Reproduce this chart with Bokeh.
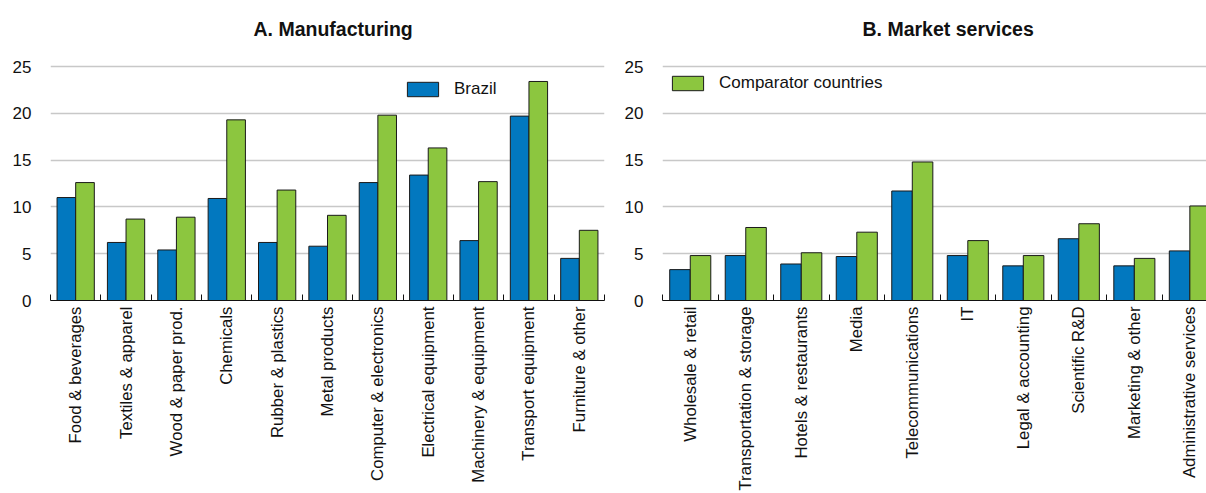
import numpy as np
from bokeh.plotting import figure
from bokeh.models import (FixedTicker, Legend, LegendItem, Range1d)
from bokeh.layouts import row
from bokeh.embed import file_html
from bokeh.resources import INLINE

# ---------------- data ----------------
mfg_cats = ["Food & beverages", "Textiles & apparel", "Wood & paper prod.",
            "Chemicals", "Rubber & plastics", "Metal products",
            "Computer & electronics", "Electrical equipment",
            "Machinery & equipment", "Transport equipment", "Furniture & other"]
mfg_brazil = [11.0, 6.2, 5.4, 10.9, 6.2, 5.8, 12.6, 13.4, 6.4, 19.7, 4.5]
mfg_comp = [12.6, 8.7, 8.9, 19.3, 11.8, 9.1, 19.8, 16.3, 12.7, 23.4, 7.5]

svc_cats = ["Wholesale & retail", "Transportation & storage",
            "Hotels & restaurants", "Media", "Telecommunications", "IT",
            "Legal & accounting", "Scientific R&D", "Marketing & other",
            "Administrative services"]
svc_brazil = [3.3, 4.8, 3.9, 4.7, 11.7, 4.8, 3.7, 6.6, 3.7, 5.3]
svc_comp = [4.8, 7.8, 5.1, 7.3, 14.8, 6.4, 4.8, 8.2, 4.5, 10.1]

y_ticks = [0, 5, 10, 15, 20, 25]
series_names = ["Brazil", "Comparator countries"]

BLUE = "#0278BF"
GREEN = "#8CC63F"
FONT = "Liberation Sans"

TOP = 46          # top border (title area)
BOTTOM = 193      # bottom border (rotated labels)
HEIGHT = 493
# frame spans TOP..HEIGHT-BOTTOM; the 25 gridline should sit 234 px above 0
Y_END = y_ticks[-1] * (HEIGHT - BOTTOM - TOP) / 234.0


def panel(title, cats, br, cp, width, border_left, border_right, x_end,
          legend_idx, legend_loc, title_offset):
    n = len(cats)
    idx = np.arange(n)
    half = 0.37 / 2
    p = figure(width=width, height=HEIGHT,
               x_range=Range1d(-0.5, x_end), y_range=Range1d(0, Y_END),
               output_backend="svg", toolbar_location=None,
               min_border_left=border_left, min_border_right=border_right,
               min_border_top=TOP, min_border_bottom=BOTTOM)
    p.outline_line_color = None
    p.background_fill_color = "white"
    p.border_fill_color = "white"

    p.title.text = title
    p.title.align = "left"
    p.title.vertical_align = "bottom"
    p.title.text_font = FONT
    p.title.text_font_style = "bold"
    p.title.text_font_size = "19.5px"
    p.title.text_color = "#111111"
    p.title.standoff = 14
    p.title.offset = title_offset

    rb = p.vbar(x=idx - half, top=br, bottom=0, width=0.37,
                fill_color=BLUE, line_color="#1a1a1a", line_width=1)
    rc = p.vbar(x=idx + half, top=cp, bottom=0, width=0.37,
                fill_color=GREEN, line_color="#1a1a1a", line_width=1)

    # y axis
    p.yaxis.ticker = FixedTicker(ticks=y_ticks)
    p.yaxis.axis_line_color = None
    p.yaxis.major_tick_line_color = None
    p.yaxis.major_tick_in = 0
    p.yaxis.major_tick_out = 0
    p.yaxis.minor_tick_line_color = None
    p.yaxis.minor_tick_in = 0
    p.yaxis.minor_tick_out = 0
    p.yaxis.major_label_text_font = FONT
    p.yaxis.major_label_text_font_size = "17px"
    p.yaxis.major_label_text_color = "#111111"
    p.yaxis.major_label_standoff = 19
    p.ygrid.ticker = FixedTicker(ticks=y_ticks)
    p.ygrid.grid_line_color = "#c8c8c8"
    p.ygrid.grid_line_width = 1.5
    p.xgrid.visible = False

    # x axis: labels at category centres, small ticks at boundaries
    p.xaxis.ticker = FixedTicker(ticks=list(idx),
                                 minor_ticks=list(np.arange(n + 1) - 0.5))
    p.xaxis.major_label_overrides = {int(i): c for i, c in zip(idx, cats)}
    p.xaxis.major_label_orientation = np.pi / 2
    p.xaxis.major_label_text_font = FONT
    p.xaxis.major_label_text_font_size = "16.8px"
    p.xaxis.major_label_text_color = "#111111"
    p.xaxis.major_label_standoff = 6
    p.xaxis.major_tick_line_color = None
    p.xaxis.major_tick_in = 0
    p.xaxis.major_tick_out = 0
    p.xaxis.minor_tick_in = 6
    p.xaxis.minor_tick_out = 0
    p.xaxis.minor_tick_line_color = "#111111"
    p.xaxis.axis_line_color = "#111111"
    p.xaxis.axis_line_width = 1.2

    r = [rb, rc][legend_idx]
    legend = Legend(items=[LegendItem(label=series_names[legend_idx],
                                      renderers=[r])],
                    location=legend_loc, padding=0, margin=0, spacing=0,
                    glyph_width=39, glyph_height=18, label_height=18,
                    label_standoff=12, border_line_color=None,
                    background_fill_alpha=0,
                    label_text_font=FONT, label_text_font_size="17px",
                    label_text_color="#111111")
    p.add_layout(legend)
    return p


p1 = panel("A. Manufacturing", mfg_cats, mfg_brazil, mfg_comp,
           width=606, border_left=50, border_right=2, x_end=10.5,
           legend_idx=0, legend_loc=(353, 201), title_offset=203)
p2 = panel("B. Market services", svc_cats, svc_brazil, svc_comp,
           width=600, border_left=56, border_right=0, x_end=9.30,
           legend_idx=1, legend_loc=(6, 207), title_offset=200)

layout = row(p1, p2)
open("out.html", "w").write(file_html(layout, INLINE))
